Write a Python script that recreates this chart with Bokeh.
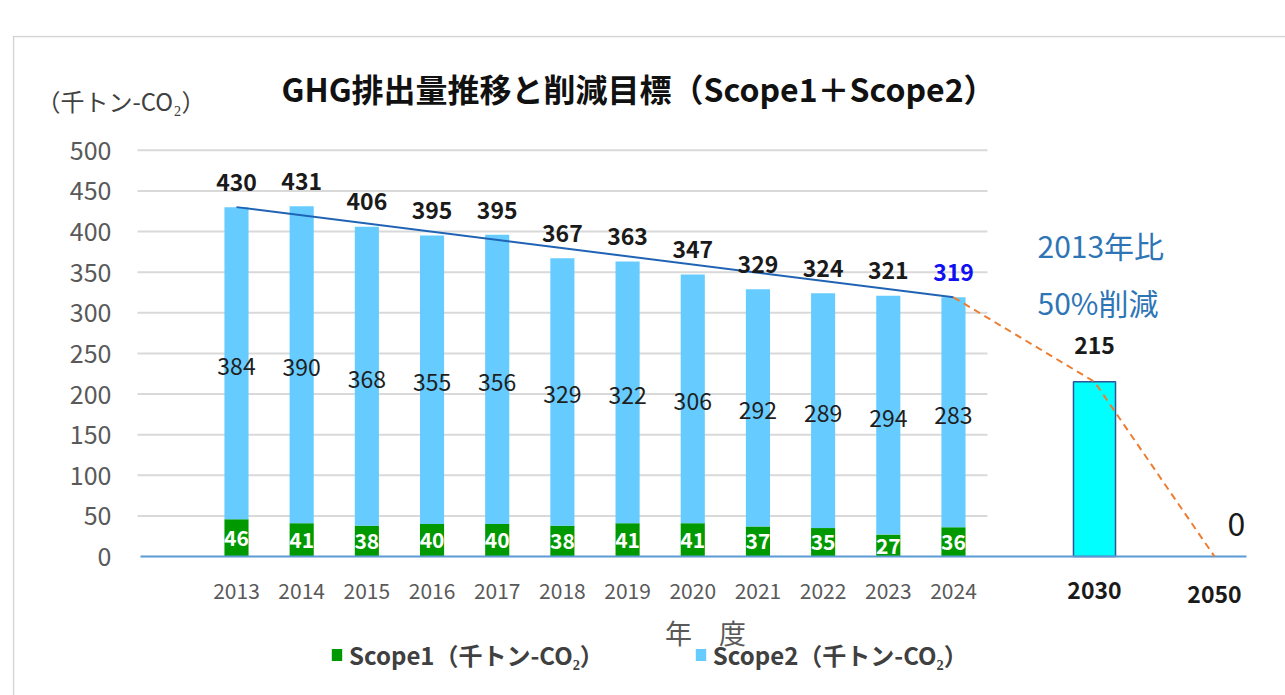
from bokeh.plotting import figure
from bokeh.models import ColumnDataSource, Legend, LegendItem, Range1d
from bokeh.core.properties import value
from bokeh.embed import file_html
from bokeh.resources import INLINE

# ---------------- data ----------------
years = ["2013", "2014", "2015", "2016", "2017", "2018",
         "2019", "2020", "2021", "2022", "2023", "2024"]
scope1 = [46, 41, 38, 40, 40, 38, 41, 41, 37, 35, 27, 36]
scope2 = [384, 390, 368, 355, 356, 329, 322, 306, 292, 289, 294, 283]
totals = [430, 431, 406, 395, 395, 367, 363, 347, 329, 324, 321, 319]
target_years = ["2030", "2050"]
target_values = [215, 0]
y_ticks = [0, 50, 100, 150, 200, 250, 300, 350, 400, 450, 500]

title_text = "GHG排出量推移と削減目標（Scope1＋Scope2）"
unit_text = "（千トン-CO₂）"
x_title_text = "年　度"
legend_labels = ["Scope1（千トン-CO₂）", "Scope2（千トン-CO₂）"]
note_lines = ["2013年比", "50%削減"]

# ---------------- layout helpers ----------------
FONT_NAME = "Noto Sans CJK JP"
FONT = value(FONT_NAME)
CAT0_PX, STEP_PX = 236.0, 65.18     # page x of first category, spacing
ZERO_PX, UNIT_PX = 556.0, 0.8125     # page y of value 0, px per unit
W, H = 1285, 695
FRAME_L, FRAME_T = 12, 35


def px_x(px):
    return (px - CAT0_PX) / STEP_PX


def px_y(py):
    return (ZERO_PX - py) / UNIT_PX


x_hist = list(range(len(years)))
x_target = [px_x(1094), px_x(1214)]

p = figure(width=W, height=H,
           x_range=Range1d(px_x(FRAME_L), px_x(W)),
           y_range=Range1d(px_y(H), px_y(FRAME_T)),
           output_backend="svg", toolbar_location=None, title=None,
           x_axis_location=None, y_axis_location=None,
           min_border_left=FRAME_L, min_border_right=0,
           min_border_top=FRAME_T, min_border_bottom=0)
p.grid.visible = False
p.outline_line_color = None
p.background_fill_color = "white"
p.border_fill_color = "white"

# card border (top and left)
p.segment(x0=[px_x(12), px_x(13)], y0=[px_y(36), px_y(36)],
          x1=[px_x(1300), px_x(13)], y1=[px_y(36), px_y(720)],
          line_color="#D4D4D4", line_width=1.5)

# gridlines
grid_vals = [t for t in y_ticks if t > 0]
p.segment(x0=[px_x(137)] * len(grid_vals), y0=grid_vals,
          x1=[px_x(987)] * len(grid_vals), y1=grid_vals,
          line_color="#D9D9D9", line_width=2)

# y tick labels
p.text(x=[px_x(111)] * len(y_ticks), y=y_ticks, text=[str(t) for t in y_ticks],
       text_font=FONT, text_font_size="25px", text_color="#595959",
       text_align="right", text_baseline="middle")

# stacked bars
s1_top = scope1
s2_top = [a + b for a, b in zip(scope1, scope2)]
src = ColumnDataSource(dict(x=x_hist, s1=s1_top, s2=s2_top, zero=[0] * len(years)))
r1 = p.vbar(x="x", bottom="zero", top="s1", width=0.37, source=src,
            fill_color="#009A00", line_color=None)
r2 = p.vbar(x="x", bottom="s1", top="s2", width=0.37, source=src,
            fill_color="#66CCFF", line_color=None)

# target bar(s)
tx = [x for x, v in zip(x_target, target_values) if v > 0]
tv = [v for v in target_values if v > 0]
p.vbar(x=tx, bottom=0, top=tv, width=0.645, fill_color="#00FFFF",
       line_color="#2F5597", line_width=1.5)

# baseline
p.segment(x0=[px_x(140)], y0=[0], x1=[px_x(1246)], y1=[0],
          line_color="#5B9BD5", line_width=2)

# trend line and reduction path
p.line([x_hist[0], x_hist[-1]], [totals[0], totals[-1]],
       line_color="#1F63B5", line_width=2)
p.line([x_hist[-1]] + x_target, [totals[-1]] + target_values,
       line_color="#ED7D31", line_width=2, line_dash="7 5")

# labels: totals
tot_colors = ["#1A1A1A"] * (len(totals) - 1) + ["#1010F0"]
p.text(x=x_hist, y=totals, text=[str(t) for t in totals], y_offset=-25,
       text_color=tot_colors, text_font=FONT, text_font_size="23px",
       text_font_style="bold", text_align="center", text_baseline="middle")
# scope2 labels
p.text(x=x_hist, y=[a + b / 2 for a, b in zip(scope1, scope2)],
       text=[str(v) for v in scope2], y_offset=3,
       text_color="#1F1F1F", text_font=FONT, text_font_size="23px",
       text_align="center", text_baseline="middle")
# scope1 labels
p.text(x=x_hist, y=[v / 2 for v in scope1], text=[str(v) for v in scope1],
       text_color="white", text_font=FONT, text_font_size="21px",
       text_font_style="bold", text_align="center", text_baseline="middle")
# target labels
p.text(x=[x_target[0]], y=[target_values[0]], text=[str(target_values[0])],
       y_offset=-36, text_color="#1A1A1A", text_font=FONT, text_font_size="23px",
       text_font_style="bold", text_align="center", text_baseline="middle")
p.text(x=[x_target[1]], y=[target_values[1]], text=[str(target_values[1])],
       x_offset=22, y_offset=-33, text_color="#1A1A1A", text_font=FONT,
       text_font_size="32px", text_align="center", text_baseline="middle")

# x tick labels
p.text(x=x_hist, y=[px_y(590)] * len(years), text=years,
       text_color="#595959", text_font=FONT, text_font_size="21px",
       text_align="center", text_baseline="middle")
p.text(x=x_target, y=[px_y(590), px_y(594)], text=target_years,
       text_color="#1A1A1A", text_font=FONT, text_font_size="23px",
       text_font_style="bold", text_align="center", text_baseline="middle")

# x axis title
p.text(x=[px_x(705)], y=[px_y(632)], text=[x_title_text],
       text_color="#595959", text_font=FONT, text_font_size="27px",
       text_align="center", text_baseline="middle")

# title and unit
p.text(x=[px_x(638)], y=[px_y(87)], text=[title_text],
       text_color="#111111", text_font=FONT, text_font_size="32px",
       text_font_style="bold", text_align="center", text_baseline="middle")
p.text(x=[px_x(36)], y=[px_y(100)], text=[unit_text],
       text_color="#404040", text_font=FONT, text_font_size="24px",
       text_align="left", text_baseline="middle")

# annotation
p.text(x=[px_x(1037)] * 2, y=[px_y(244), px_y(301)], text=note_lines,
       text_color="#2E75B6", text_font=FONT, text_font_size="30px",
       text_align="left", text_baseline="middle")

# legend
legend = Legend(items=[LegendItem(label=legend_labels[0], renderers=[r1]),
                       LegendItem(label=legend_labels[1], renderers=[r2])],
                location=(330 - FRAME_L, 23), orientation="horizontal",
                border_line_color=None, background_fill_alpha=0,
                padding=0, margin=0, spacing=90,
                glyph_width=13, glyph_height=15, label_standoff=6,
                label_text_font=FONT_NAME, label_text_font_size="24px",
                label_text_font_style="bold", label_text_color="#404040")
p.add_layout(legend)

open("out.html", "w").write(file_html(p, INLINE))
